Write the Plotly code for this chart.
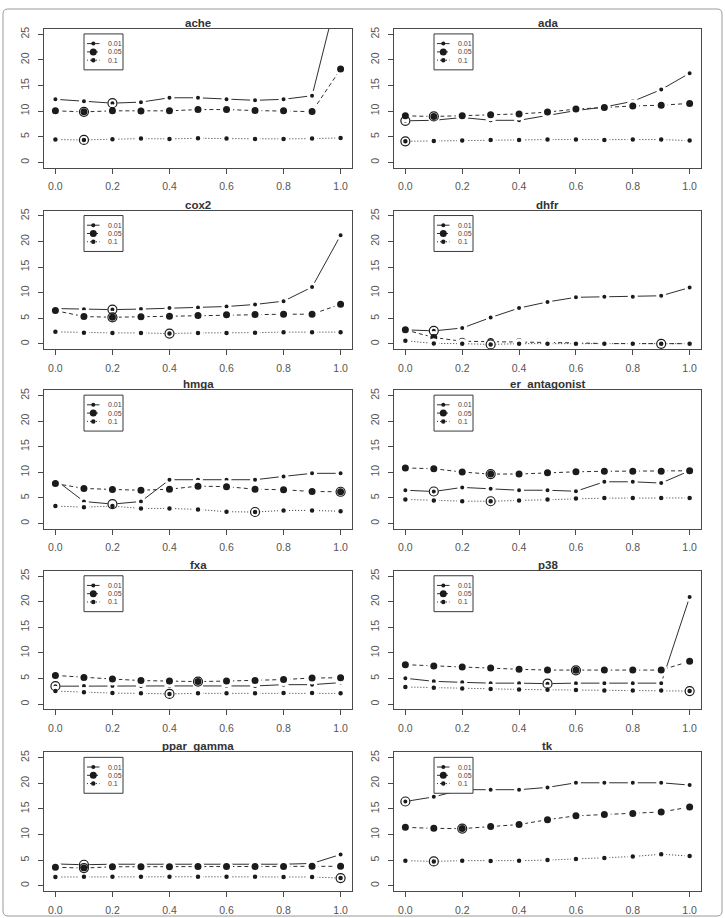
import plotly.graph_objects as go

W, H = 725, 918

x_vals = [0.0, 0.1, 0.2, 0.3, 0.4, 0.5, 0.6, 0.7, 0.8, 0.9, 1.0]
x_ticks = [0.0, 0.2, 0.4, 0.6, 0.8, 1.0]
y_ticks = [0, 5, 10, 15, 20, 25]
series_names = ["0.01", "0.05", "0.1"]
panel_names = ["ache", "ada", "cox2", "dhfr", "hmga", "er_antagonist",
               "fxa", "p38", "ppar_gamma", "tk"]

ache_001 = [12.3, 11.9, 11.55, 11.75, 12.6, 12.6, 12.3, 12.1, 12.3, 13.0, 35.2]
ache_005 = [10.05, 9.85, 10.05, 10.0, 10.05, 10.3, 10.3, 10.1, 10.05, 9.9, 18.2]
ache_01 = [4.44, 4.37, 4.5, 4.63, 4.57, 4.7, 4.63, 4.57, 4.57, 4.63, 4.76]

ada_001 = [8.1, 8.2, 8.75, 8.2, 8.2, 9.1, 10.1, 10.8, 11.9, 14.2, 17.4]
ada_005 = [9.07, 8.95, 9.1, 9.3, 9.45, 9.8, 10.4, 10.7, 11.0, 11.15, 11.5]
ada_01 = [4.1, 4.18, 4.24, 4.37, 4.37, 4.44, 4.44, 4.37, 4.44, 4.44, 4.24]

cox2_001 = [6.9, 6.75, 6.7, 6.8, 7.0, 7.1, 7.3, 7.7, 8.35, 11.1, 21.2]
cox2_005 = [6.5, 5.35, 5.2, 5.3, 5.4, 5.55, 5.7, 5.75, 5.8, 5.8, 7.75]
cox2_01 = [2.35, 2.2, 2.15, 2.15, 2.02, 2.15, 2.15, 2.2, 2.3, 2.3, 2.3]

dhfr_001 = [2.75, 2.55, 3.1, 5.15, 7.0, 8.2, 9.1, 9.2, 9.2, 9.4, 11.0]
dhfr_005 = [2.75, 1.25, 0.52, 0.46, 0.4, 0.33, 0.2, 0.07, 0.06, 0.02, 0.05]
dhfr_01 = [0.6, 0.1, 0.05, -0.1, 0.05, 0.05, 0.05, 0.05, 0.05, 0.05, 0.05]

hmga_001 = [8.55, 4.3, 3.8, 4.3, 8.55, 8.55, 8.55, 8.55, 9.2, 9.8, 9.8]
hmga_005 = [7.8, 6.85, 6.65, 6.5, 6.7, 7.3, 7.2, 6.7, 6.6, 6.25, 6.2]
hmga_01 = [3.4, 3.2, 3.4, 2.95, 2.95, 2.75, 2.3, 2.25, 2.55, 2.55, 2.4]

er_001 = [6.5, 6.25, 7.05, 6.8, 6.5, 6.5, 6.3, 8.15, 8.15, 7.9, 10.3]
er_005 = [10.85, 10.7, 10.05, 9.65, 9.67, 9.9, 10.1, 10.2, 10.2, 10.2, 10.3]
er_01 = [4.7, 4.5, 4.37, 4.35, 4.5, 4.7, 4.9, 4.96, 4.96, 5.0, 5.0]

fxa_001 = [3.5, 3.55, 3.55, 3.55, 3.55, 3.55, 3.55, 3.55, 3.8, 3.8, 4.2]
fxa_005 = [5.6, 5.2, 4.9, 4.6, 4.5, 4.4, 4.5, 4.6, 4.8, 5.1, 5.15]
fxa_01 = [2.55, 2.3, 2.15, 2.1, 2.0, 2.1, 2.1, 2.1, 2.15, 2.15, 2.1]

p38_001 = [5.05, 4.45, 4.25, 4.1, 4.1, 4.0, 4.1, 4.1, 4.1, 4.1, 20.9]
p38_005 = [7.7, 7.45, 7.25, 7.05, 6.8, 6.65, 6.6, 6.65, 6.65, 6.65, 8.35]
p38_01 = [3.35, 3.2, 3.05, 2.95, 2.87, 2.8, 2.75, 2.68, 2.68, 2.68, 2.55]

ppar_001 = [4.25, 4.1, 4.2, 4.2, 4.2, 4.2, 4.2, 4.2, 4.2, 4.35, 6.1]
ppar_005 = [3.6, 3.45, 3.7, 3.7, 3.7, 3.75, 3.75, 3.75, 3.75, 3.8, 3.8]
ppar_01 = [1.7, 1.75, 1.75, 1.75, 1.75, 1.75, 1.75, 1.75, 1.7, 1.7, 1.5]

tk_001 = [16.45, 17.35, 18.75, 18.75, 18.75, 19.2, 20.1, 20.1, 20.1, 20.1, 19.65]
tk_005 = [11.4, 11.2, 11.15, 11.55, 11.95, 12.9, 13.65, 13.9, 14.1, 14.4, 15.35]
tk_01 = [4.9, 4.75, 4.9, 4.83, 4.9, 5.0, 5.2, 5.4, 5.7, 6.15, 5.8]

# index of the circled (best) point of each series, per panel
circled_idx = {
    "ache": [2, 1, 1], "ada": [0, 1, 0], "cox2": [2, 2, 4], "dhfr": [1, 9, 3],
    "hmga": [2, 10, 7], "er_antagonist": [1, 3, 3], "fxa": [0, 5, 4],
    "p38": [5, 6, 10], "ppar_gamma": [1, 1, 10], "tk": [0, 2, 1],
}

panel_data = {
    "ache": [ache_001, ache_005, ache_01],
    "ada": [ada_001, ada_005, ada_01],
    "cox2": [cox2_001, cox2_005, cox2_01],
    "dhfr": [dhfr_001, dhfr_005, dhfr_01],
    "hmga": [hmga_001, hmga_005, hmga_01],
    "er_antagonist": [er_001, er_005, er_01],
    "fxa": [fxa_001, fxa_005, fxa_01],
    "p38": [p38_001, p38_005, p38_01],
    "ppar_gamma": [ppar_001, ppar_005, ppar_01],
    "tk": [tk_001, tk_005, tk_01],
}

# styles
DOT = "#1b1b1b"
LINE = "#2e2e2e"
AX = "#4a4a4a"
TXT = "#555555"
FONT = "Liberation Sans, Arial, Helvetica, sans-serif"
dashes = ["solid", "4px,3px", "1px,2px"]
dot_sizes = [4, 7, 4.5]
GAP = 3

col_x = [(44, 352), (394, 701)]
row_tops = [27, 209, 389, 570, 752]
BOX_H = 139

fig = go.Figure()
layout = dict(
    width=W, height=H, margin=dict(l=0, r=0, t=0, b=0),
    paper_bgcolor="white", plot_bgcolor="white", showlegend=False,
    font=dict(family=FONT, color=TXT),
)
shapes = []
annotations = []

for i, name in enumerate(panel_names):
    r, c = divmod(i, 2)
    n = i + 1
    xa = "x" if n == 1 else f"x{n}"
    ya = "y" if n == 1 else f"y{n}"
    xk = "xaxis" if n == 1 else f"xaxis{n}"
    yk = "yaxis" if n == 1 else f"yaxis{n}"
    x0p, x1p = col_x[c]
    top = row_tops[r]
    bot = top + BOX_H
    layout[xk] = dict(
        domain=[x0p / W, x1p / W], anchor=ya, range=[-0.04, 1.04],
        tickvals=x_ticks, ticktext=[f"{v:.1f}" for v in x_ticks],
        showgrid=False, zeroline=False, showline=True, mirror=True,
        linecolor=AX, linewidth=1, ticks="outside", ticklen=5, tickcolor=AX,
        tickfont=dict(size=10.5, color=TXT, family=FONT), ticklabelstandoff=4,
    )
    layout[yk] = dict(
        domain=[1 - bot / H, 1 - top / H], anchor=xa, range=[-1.04, 26.04],
        tickvals=y_ticks, showgrid=False, zeroline=False, showline=True,
        mirror=True, linecolor=AX, linewidth=1, ticks="outside", ticklen=5,
        tickcolor=AX, tickangle=-90,
        tickfont=dict(size=10.5, color=TXT, family=FONT), ticklabelstandoff=5,
    )
    series = panel_data[name]
    for s, ys in enumerate(series):
        fig.add_trace(go.Scatter(
            x=x_vals, y=ys, mode="lines+markers", xaxis=xa, yaxis=ya,
            line=dict(color=LINE, width=1, dash=dashes[s]),
            marker=dict(color=DOT, size=dot_sizes[s] + GAP,
                        line=dict(color="white", width=GAP)),
            name=series_names[s], hoverinfo="x+y",
        ))
    cx = [x_vals[circled_idx[name][s]] for s in range(3)]
    cy = [series[s][circled_idx[name][s]] for s in range(3)]
    fig.add_trace(go.Scatter(
        x=cx, y=cy, mode="markers", xaxis=xa, yaxis=ya,
        marker=dict(symbol="circle-open", size=9, color=DOT,
                    line=dict(width=1.2, color=DOT)),
        hoverinfo="skip",
    ))
    # panel title
    annotations.append(dict(
        text=f"<b>{name}</b>", xref=f"{xa} domain", yref=f"{ya} domain",
        x=0.5, y=1, xanchor="center", yanchor="bottom", yshift=-2,
        showarrow=False, font=dict(size=11.5, color="#333333", family=FONT),
    ))
    # legend box
    bw = x1p - x0p
    lx0, lx1 = 40 / bw, 79 / bw
    ly1, ly0 = 1 - 5 / BOX_H, 1 - 41 / BOX_H
    shapes.append(dict(type="rect", xref=f"{xa} domain", yref=f"{ya} domain",
                       x0=lx0, x1=lx1, y0=ly0, y1=ly1,
                       line=dict(color="#3a3a3a", width=1),
                       fillcolor="white", layer="above"))
    for s in range(3):
        ey = 1 - (14.7 + 8.3 * s) / BOX_H
        shapes.append(dict(type="line", xref=f"{xa} domain", yref=f"{ya} domain",
                           x0=43 / bw, x1=55.5 / bw, y0=ey, y1=ey,
                           line=dict(color=LINE, width=1, dash=dashes[s]),
                           layer="above"))
        rad = dot_sizes[s] / 2
        shapes.append(dict(type="circle", xref=f"{xa} domain", yref=f"{ya} domain",
                           xsizemode="pixel", ysizemode="pixel",
                           xanchor=49.3 / bw, yanchor=ey,
                           x0=-rad, x1=rad, y0=-rad, y1=rad,
                           fillcolor=DOT, line=dict(color=DOT, width=0),
                           layer="above"))
        annotations.append(dict(
            text=series_names[s], xref=f"{xa} domain", yref=f"{ya} domain",
            x=62 / bw, y=ey, xanchor="left", yanchor="middle", showarrow=False,
            font=dict(size=7, color="#444444", family=FONT),
        ))

# outer rounded frame
fx0, fx1 = 3 / W, 722 / W
fy0, fy1 = 1 - 916 / H, 1 - 7 / H
rx, ry = 5 / W, 5 / H
path = (f"M {fx0+rx},{fy1} L {fx1-rx},{fy1} Q {fx1},{fy1} {fx1},{fy1-ry} "
        f"L {fx1},{fy0+ry} Q {fx1},{fy0} {fx1-rx},{fy0} "
        f"L {fx0+rx},{fy0} Q {fx0},{fy0} {fx0},{fy0+ry} "
        f"L {fx0},{fy1-ry} Q {fx0},{fy1} {fx0+rx},{fy1} Z")
shapes.append(dict(type="path", xref="paper", yref="paper", path=path,
                   line=dict(color="#9a9a9a", width=1), layer="below"))

layout["shapes"] = shapes
layout["annotations"] = annotations
fig.update_layout(**layout)
fig.write_html("out.html")
